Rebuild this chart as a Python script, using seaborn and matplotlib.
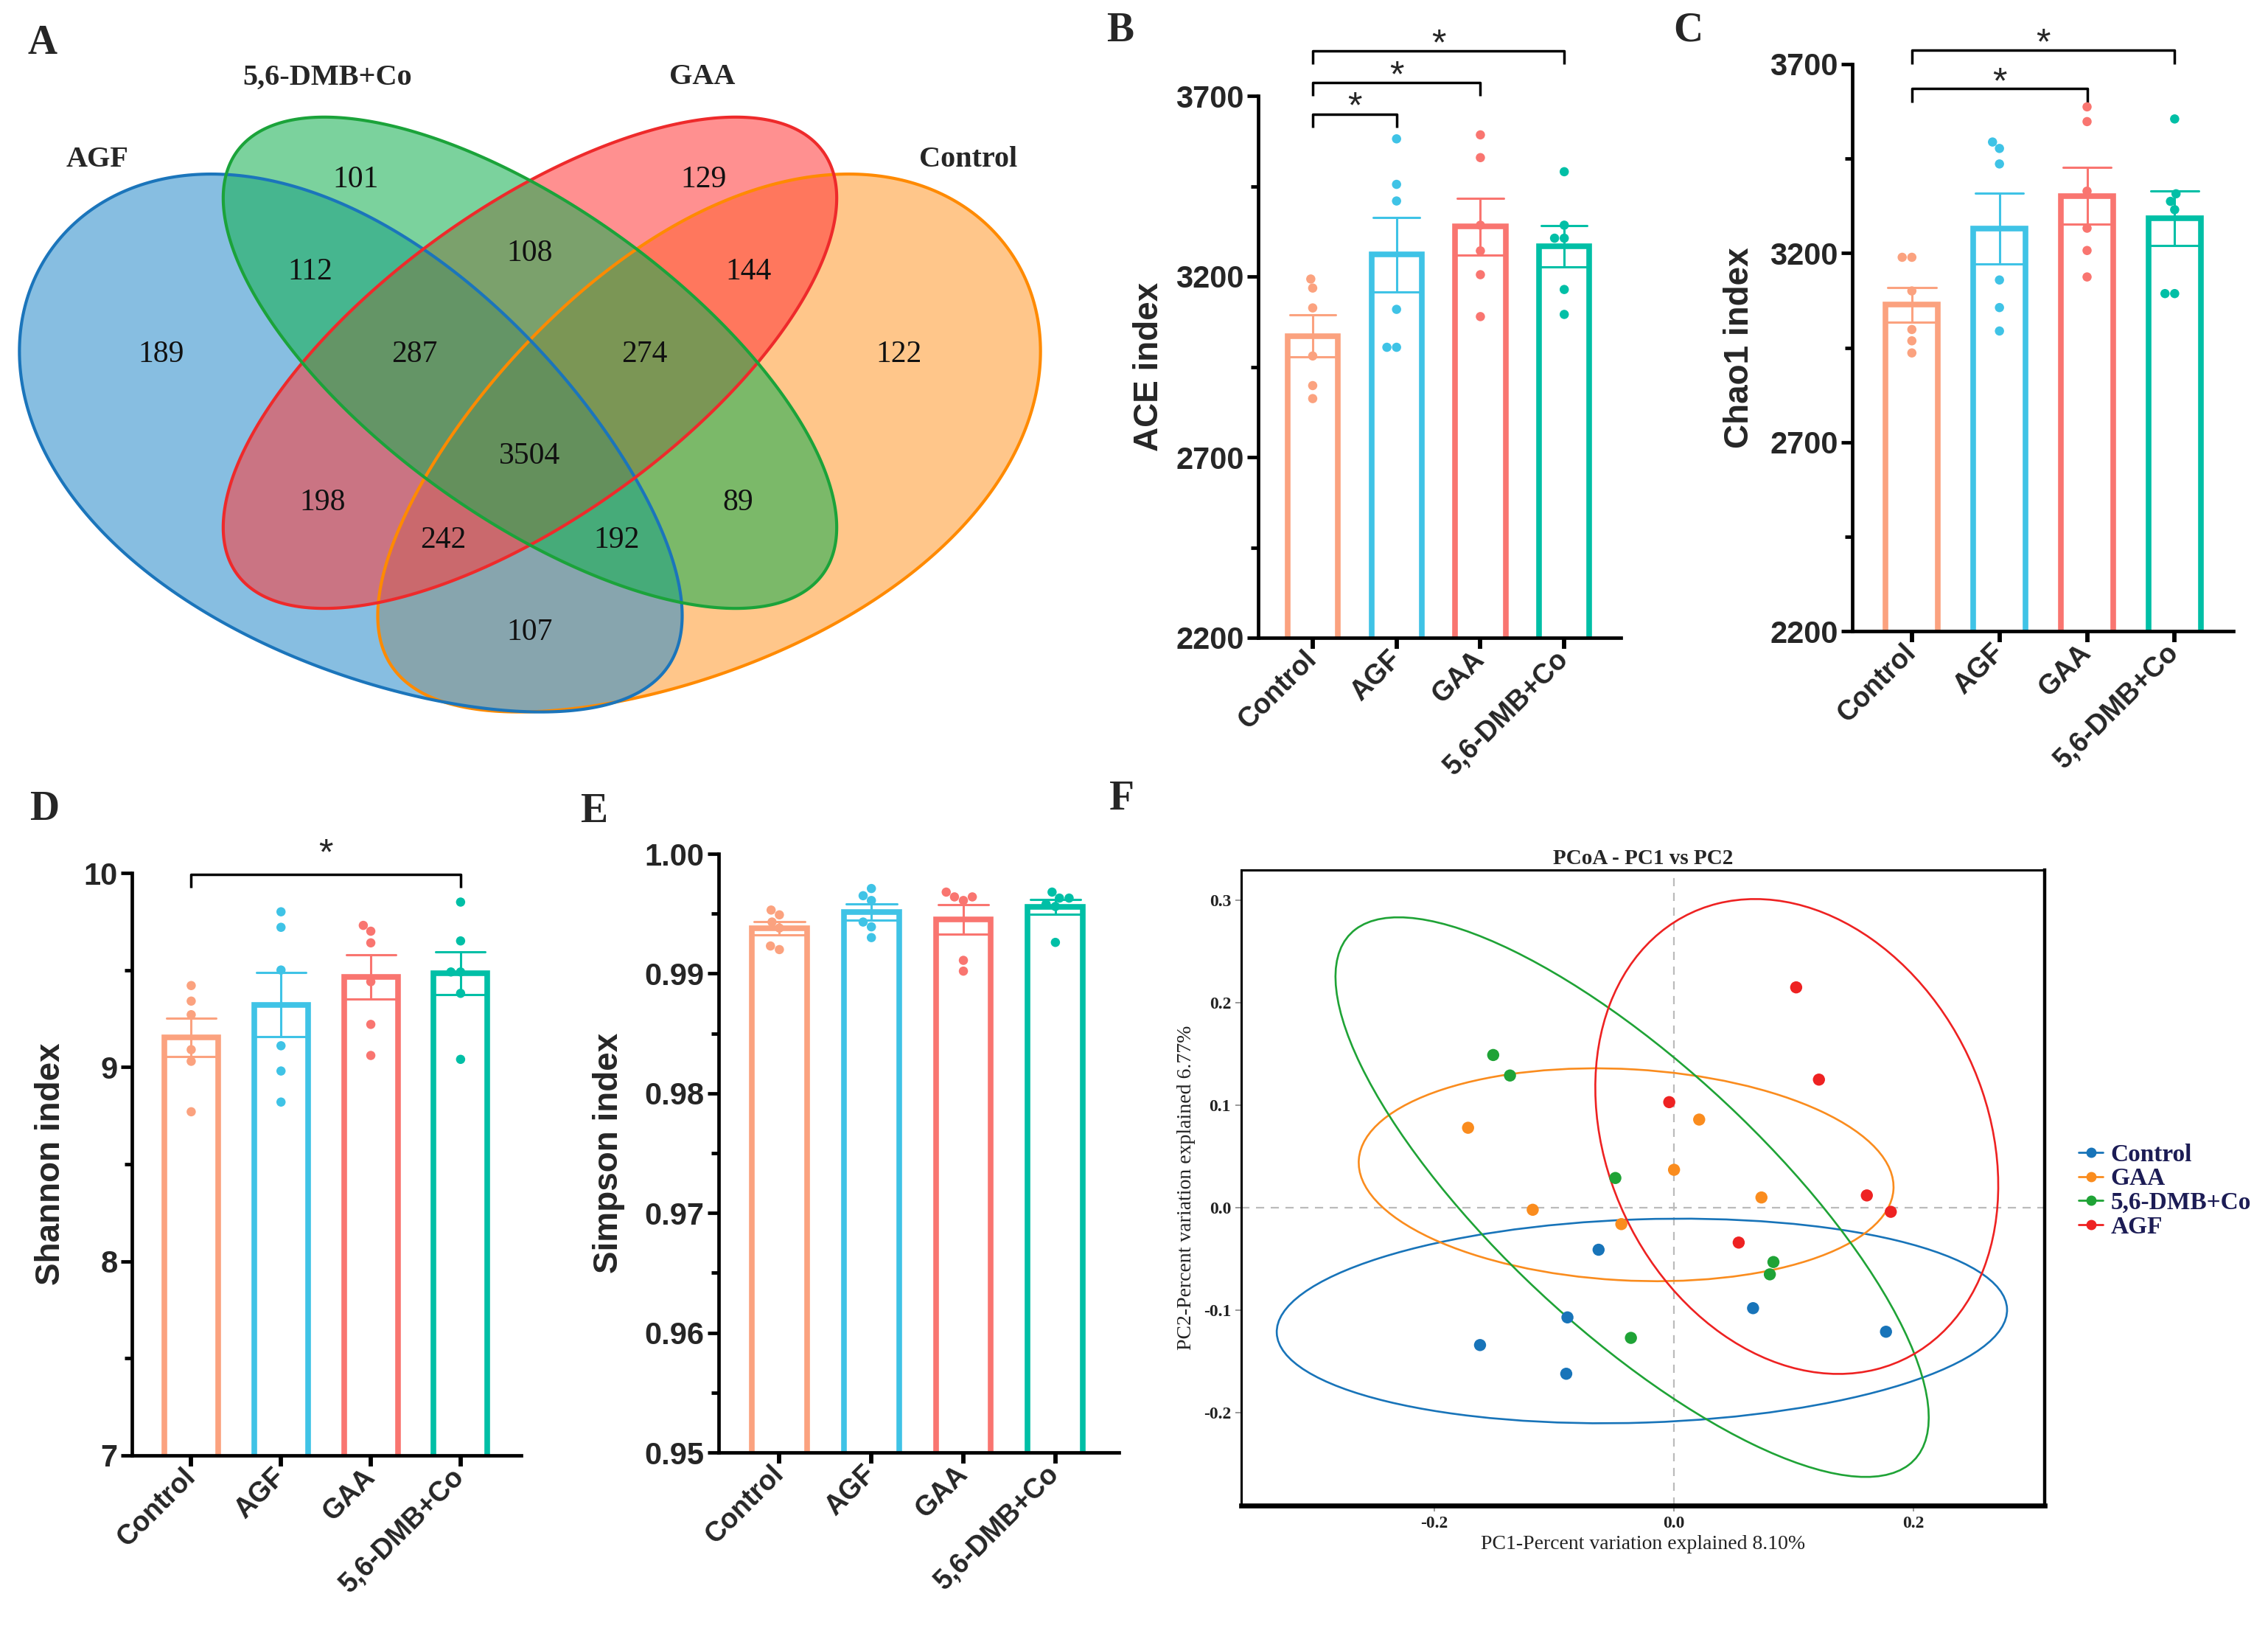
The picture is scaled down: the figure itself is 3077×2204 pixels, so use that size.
import numpy as np
import pandas as pd
import matplotlib
matplotlib.use("Agg")
import matplotlib.pyplot as plt
from matplotlib.patches import Ellipse, Polygon
from matplotlib.lines import Line2D
import seaborn as sns

# ---------------- data ----------------
groups = ["Control", "AGF", "GAA", "5,6-DMB+Co"]
bar_colors = ["#FBA27F", "#3FC3E6", "#F97570", "#00BFA6"]

ace_control = [3193, 3168, 3113, 2980, 2898, 2862]
ace_agf = [3581, 3455, 3409, 3109, 3004, 3004]
ace_gaa = [3592, 3529, 3342, 3271, 3205, 3089]
ace_dmb = [3490, 3342, 3306, 3306, 3164, 3095]

chao1_control = [3189, 3189, 3100, 2998, 2968, 2936]
chao1_agf = [3494, 3477, 3436, 3129, 3056, 2994]
chao1_gaa = [3587, 3548, 3364, 3266, 3207, 3137]
chao1_dmb = [3555, 3357, 3337, 3315, 3093, 3093]

shannon_control = [9.42, 9.34, 9.27, 9.09, 9.03, 8.77]
shannon_agf = [9.80, 9.72, 9.50, 9.11, 8.98, 8.82]
shannon_gaa = [9.73, 9.70, 9.64, 9.44, 9.22, 9.06]
shannon_dmb = [9.85, 9.65, 9.49, 9.49, 9.38, 9.04]

simpson_control = [0.9953, 0.9949, 0.9943, 0.9938, 0.9923, 0.9920]
simpson_agf = [0.9971, 0.9965, 0.9961, 0.9943, 0.9939, 0.9930]
simpson_gaa = [0.9968, 0.9964, 0.9964, 0.9961, 0.9911, 0.9902]
simpson_dmb = [0.9968, 0.9963, 0.9963, 0.9958, 0.9956, 0.9926]

ace_sig = [("Control", "AGF"), ("Control", "GAA"), ("Control", "5,6-DMB+Co")]
chao1_sig = [("Control", "GAA"), ("Control", "5,6-DMB+Co")]
shannon_sig = [("Control", "5,6-DMB+Co")]

# Venn: sets and region counts
venn_sets = ["AGF", "5,6-DMB+Co", "GAA", "Control"]
venn_regions = ["AGF", "DMB", "GAA", "Control",
                "AGF&DMB", "DMB&GAA", "GAA&Control",
                "AGF&GAA", "DMB&Control", "AGF&Control",
                "AGF&DMB&GAA", "DMB&GAA&Control", "AGF&GAA&Control", "AGF&DMB&Control",
                "all"]
venn_counts = [189, 101, 129, 122,
               112, 108, 144,
               198, 89, 107,
               287, 274, 242, 192,
               3504]

# PCoA
pcoa_groups = ["Control", "GAA", "5,6-DMB+Co", "AGF"]
pcoa_colors = ["#1874B9", "#FA8C1E", "#1FA336", "#EE2222"]
pc1_control = [-0.063, -0.089, -0.162, -0.090, 0.066, 0.177]
pc2_control = [-0.041, -0.107, -0.134, -0.162, -0.098, -0.121]
pc1_gaa = [-0.172, -0.118, -0.044, 0.000, 0.021, 0.073]
pc2_gaa = [0.078, -0.002, -0.016, 0.037, 0.086, 0.010]
pc1_dmb = [-0.151, -0.137, -0.049, 0.083, 0.080, -0.036]
pc2_dmb = [0.149, 0.129, 0.029, -0.053, -0.065, -0.127]
pc1_agf = [0.102, 0.121, -0.004, 0.161, 0.181, 0.054]
pc2_agf = [0.215, 0.125, 0.103, 0.012, -0.004, -0.034]

# ---------------- style ----------------
sns.set_theme(style="ticks")
plt.rcParams["font.family"] = ["Liberation Sans", "DejaVu Sans"]
SERIF = ["Liberation Serif", "DejaVu Serif"]
W, H = 3077, 2204
fig = plt.figure(figsize=(W / 100, H / 100), dpi=100)


def px_axes(left, top, right, bottom):
    return fig.add_axes([left / W, 1 - bottom / H, (right - left) / W, (bottom - top) / H])


def bar_panel(ax, values, ylim, major, minor, ylabel, xlim, label_x, sig, sig_base, sig_step, drop, star_off):
    df = pd.DataFrame({"group": np.repeat(groups, 6), "value": np.concatenate(values)})
    pal = dict(zip(groups, bar_colors))
    sns.barplot(data=df, x="group", y="value", hue="group", order=groups, hue_order=groups,
                palette=pal, errorbar="se", capsize=0.55, fill=False, width=0.6,
                linewidth=5.5, err_kws={"linewidth": 2.2}, legend=False, ax=ax)
    sns.swarmplot(data=df, x="group", y="value", hue="group", order=groups, hue_order=groups,
                  palette=pal, size=9, legend=False, ax=ax)
    ax.set_ylim(*ylim)
    ax.set_xlim(*xlim)
    ax.set_yticks(major)
    ax.set_yticks(minor, minor=True)
    sns.despine(ax=ax)
    for s in ["left", "bottom"]:
        ax.spines[s].set_linewidth(3.4)
        ax.spines[s].set_color("black")
    ax.tick_params(axis="y", which="major", length=11, width=3.4, labelsize=30, pad=3, color="black")
    ax.tick_params(axis="y", which="minor", length=7, width=3.4, color="black")
    ax.tick_params(axis="x", which="major", length=11, width=4.2, labelsize=27, pad=6, color="black")
    for lab in ax.get_yticklabels():
        lab.set_fontweight("heavy")
    for lab in ax.get_xticklabels():
        lab.set_fontweight("bold")
        lab.set_rotation(45)
        lab.set_ha("right")
        lab.set_va("center")
        lab.set_rotation_mode("anchor")
    ax.set_xlabel("")
    ax.set_ylabel(ylabel, fontsize=33, fontweight="bold")
    ax.yaxis.set_label_coords(label_x, 0.5)
    for i, (g1, g2) in enumerate(sig):
        x1, x2 = groups.index(g1), groups.index(g2)
        y = sig_base + i * sig_step
        ax.plot([x1, x1, x2, x2], [y - drop, y, y, y - drop], color="black", lw=2.5,
                clip_on=False, solid_capstyle="butt")
        ax.text((x1 + x2) / 2, y + star_off, "*", ha="center", va="center", fontsize=36,
                clip_on=False)


# ---------------- B, C, D, E ----------------
axB = px_axes(1707, 130, 2199, 865)
bar_panel(axB, [ace_control, ace_agf, ace_gaa, ace_dmb], (2200, 3700),
          [2200, 2700, 3200, 3700], [2450, 2950, 3450], "ACE index", (-0.65, 3.675), -0.256,
          ace_sig, 3650, 87, 37, 16)

axC = px_axes(2513, 87, 3030, 856)
bar_panel(axC, [chao1_control, chao1_agf, chao1_gaa, chao1_dmb], (2200, 3700),
          [2200, 2700, 3200, 3700], [2450, 2950, 3450], "Chao1 index", (-0.68, 3.67), -0.253,
          chao1_sig, 3635, 102, 37, 14)

axD = px_axes(179, 1184, 707, 1974)
bar_panel(axD, [shannon_control, shannon_agf, shannon_gaa, shannon_dmb], (7, 10),
          [7, 8, 9, 10], [7.5, 8.5, 9.5], "Shannon index", (-0.66, 3.674), -0.166,
          shannon_sig, 9.994, 0.2, 0.07, 0.1)

axE = px_axes(975, 1158, 1518, 1970)
bar_panel(axE, [simpson_control, simpson_agf, simpson_gaa, simpson_dmb], (0.95, 1.0),
          [0.95, 0.96, 0.97, 0.98, 0.99, 1.00], np.arange(0.955, 1.0, 0.01), "Simpson index",
          (-0.66, 3.69), -0.233, [], 1.0, 0, 0, 0)
axE.yaxis.set_major_formatter(matplotlib.ticker.FormatStrFormatter("%.2f"))
for lab in axE.get_yticklabels():
    lab.set_fontweight("heavy")

# ---------------- A: Venn ----------------
axA = px_axes(0, 0, 1460, 1040)
axA.set_xlim(0, 1460)
axA.set_ylim(1040, 0)
axA.axis("off")


def egg(cx, cy, a, b, angle, k, mirror_x=None):
    t = np.linspace(0, 2 * np.pi, 400)
    u = a * np.cos(t)
    v = b * np.sin(t) * (1 - k * np.cos(t))
    th = np.deg2rad(angle)
    x = cx + u * np.cos(th) - v * np.sin(th)
    y = cy + u * np.sin(th) + v * np.cos(th)
    if mirror_x is not None:
        x = 2 * mirror_x - x
    return np.column_stack([x, y])


shapes = {
    "AGF": (egg(486, 624, 505, 282, 33.5, 0.2), "#2A8CCB", "#1B75BB"),
    "Control": (egg(486, 624, 505, 282, 33.5, 0.2, mirror_x=719), "#FF9A2E", "#FF8A00"),
    "5,6-DMB+Co": (egg(719, 492, 490, 210, 35.75, 0.0), "#14B050", "#1BA33A"),
    "GAA": (egg(719, 492, 490, 210, -35.75, 0.0), "#FF3A3A", "#EE2A2B"),
}
draw_order = ["Control", "AGF", "GAA", "5,6-DMB+Co"]
for name in draw_order:
    pts, fc, ec = shapes[name]
    axA.add_patch(Polygon(pts, closed=True, facecolor=fc, alpha=0.56, edgecolor="none"))
for name in draw_order:
    pts, fc, ec = shapes[name]
    axA.add_patch(Polygon(pts, closed=True, facecolor="none", edgecolor=ec, lw=3))

region_pos = {
    "AGF": (219, 481), "DMB": (483, 244), "GAA": (955, 244), "Control": (1219, 481),
    "AGF&DMB": (421, 369), "DMB&GAA": (719, 344), "GAA&Control": (1016, 369),
    "AGF&GAA": (438, 682), "DMB&Control": (1001, 682), "AGF&Control": (719, 858),
    "AGF&DMB&GAA": (562, 481), "DMB&GAA&Control": (874, 481),
    "AGF&GAA&Control": (601, 733), "AGF&DMB&Control": (837, 733), "all": (719, 619),
}
for reg, cnt in zip(venn_regions, venn_counts):
    x, y = region_pos[reg]
    axA.text(x, y, str(cnt), ha="center", va="center", fontsize=30, family=SERIF, color="#111111")

set_label_pos = {"AGF": (132, 216), "5,6-DMB+Co": (444, 105), "GAA": (953, 105), "Control": (1314, 216)}
for s in venn_sets:
    x, y = set_label_pos[s]
    axA.text(x, y, s, ha="center", va="center", fontsize=29, fontweight="bold", family=SERIF)

# ---------------- F: PCoA ----------------
axF = px_axes(1684, 1180, 2774, 2042)
pcoa_df = pd.DataFrame({
    "PC1": np.concatenate([pc1_control, pc1_gaa, pc1_dmb, pc1_agf]),
    "PC2": np.concatenate([pc2_control, pc2_gaa, pc2_dmb, pc2_agf]),
    "group": np.repeat(pcoa_groups, 6),
})
pal_f = dict(zip(pcoa_groups, pcoa_colors))
axF.axhline(0, color="#BBBBBB", ls=(0, (5, 4)), lw=1.6, zorder=0)
axF.axvline(0, color="#BBBBBB", ls=(0, (5, 4)), lw=1.6, zorder=0)
sns.scatterplot(data=pcoa_df, x="PC1", y="PC2", hue="group", palette=pal_f, s=140,
                edgecolor="none", legend=False, ax=axF, zorder=3)
chi = np.sqrt(5.991)
for g in pcoa_groups:
    sub = pcoa_df[pcoa_df.group == g]
    cov = np.cov(sub.PC1, sub.PC2)
    vals, vecs = np.linalg.eigh(cov)
    order = vals.argsort()[::-1]
    vals, vecs = vals[order], vecs[:, order]
    ang = np.degrees(np.arctan2(vecs[1, 0], vecs[0, 0]))
    axF.add_patch(Ellipse((sub.PC1.mean(), sub.PC2.mean()), 2 * chi * np.sqrt(vals[0]),
                          2 * chi * np.sqrt(vals[1]), angle=ang, facecolor="none",
                          edgecolor=pal_f[g], lw=1.9, zorder=2))
axF.set_xlim(-0.3614, 0.3095)
axF.set_ylim(-0.2906, 0.3295)
axF.set_xticks([-0.2, 0.0, 0.2])
axF.set_yticks([-0.2, -0.1, 0.0, 0.1, 0.2, 0.3])
axF.xaxis.set_major_formatter(matplotlib.ticker.FormatStrFormatter("%.1f"))
axF.yaxis.set_major_formatter(matplotlib.ticker.FormatStrFormatter("%.1f"))
axF.tick_params(length=6, width=1.2, color="#888888", labelsize=17, pad=4)
for lab in axF.get_xticklabels() + axF.get_yticklabels():
    lab.set_family(SERIF)
    lab.set_fontweight("bold")
    lab.set_color("#222222")
for s, lw in [("left", 2.2), ("top", 2.2), ("right", 3.2), ("bottom", 4.8)]:
    axF.spines[s].set_linewidth(lw)
    axF.spines[s].set_color("black")
axF.set_title("PCoA - PC1 vs PC2", fontsize=21, fontweight="bold", family=SERIF, pad=6)
axF.set_xlabel("PC1-Percent variation explained 8.10%", fontsize=20, family=SERIF, labelpad=4,
               color="#222222")
axF.set_ylabel("PC2-Percent variation explained 6.77%", fontsize=20, family=SERIF, labelpad=8,
               color="#222222")
handles = [Line2D([0], [0], color=c, marker="o", lw=2, markersize=9) for c in pcoa_colors]
leg = axF.legend(handles, pcoa_groups, loc="center left", bbox_to_anchor=(1.03, 0.495),
                 frameon=False, handlelength=1.0, handletextpad=0.3, labelspacing=0.05,
                 borderaxespad=0, prop={"family": SERIF, "weight": "bold", "size": 24})
for t in leg.get_texts():
    t.set_color("#1C1C55")

# ---------------- panel letters ----------------
for letter, (x, y) in {"A": (58, 59), "B": (1520, 42), "C": (2290, 42), "D": (60, 1098),
                       "E": (806, 1101), "F": (1522, 1084)}.items():
    fig.text(x / W, 1 - y / H, letter, fontsize=40, fontweight="bold", family=SERIF,
             ha="center", va="center")

fig.savefig("out.png", dpi=100)
